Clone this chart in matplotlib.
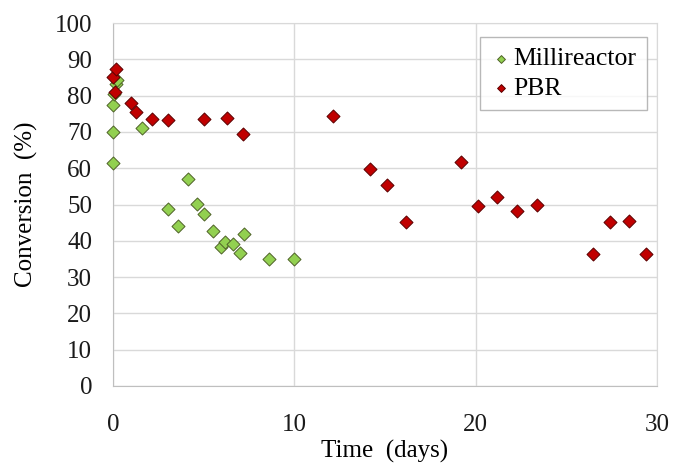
import matplotlib
matplotlib.use("Agg")
import matplotlib.pyplot as plt

# Millireactor conversion vs time
milli_days = [0.0, 0.0, 0.0, 0.05, 0.15, 0.2, 1.58, 3.02, 3.57, 4.12, 4.62, 5.03,
              5.52, 5.98, 6.2, 6.63, 6.98, 7.24, 8.62, 10.0]
milli_conv = [61.5, 70.0, 77.3, 80.5, 83.2, 84.3, 71.0, 48.8, 44.0, 57.0, 50.2, 47.3,
              42.6, 38.4, 39.8, 39.2, 36.7, 42.0, 35.0, 35.0]

# Packed bed reactor conversion vs time
pbr_days = [0.0, 0.17, 0.1, 0.97, 1.27, 2.15, 3.02, 5.03, 6.28, 7.16, 12.14, 14.2,
            15.1, 16.14, 19.17, 20.15, 21.17, 22.26, 23.4, 26.45, 27.4, 28.43, 29.42]
pbr_conv = [85.2, 87.2, 81.0, 77.9, 75.5, 73.5, 73.2, 73.5, 73.8, 69.4, 74.3, 59.9,
            55.4, 45.1, 61.6, 49.6, 52.0, 48.2, 49.9, 36.3, 45.1, 45.5, 36.3]

x_ticks = [0, 10, 20, 30]
y_ticks = list(range(0, 101, 10))

plt.rcParams["font.family"] = ["Liberation Serif", "DejaVu Serif"]

fig, ax = plt.subplots(figsize=(6.75, 4.66), dpi=100)
fig.subplots_adjust(left=0.1674, right=0.9733, top=0.9506, bottom=0.1717)

ax.scatter(milli_days, milli_conv, marker="D", s=44, color="#92D050",
           edgecolor="#4F6228", linewidth=0.7, label="Millireactor", zorder=3, clip_on=False)
ax.scatter(pbr_days, pbr_conv, marker="D", s=44, color="#C00000",
           edgecolor="#5A0000", linewidth=0.7, label="PBR", zorder=3, clip_on=False)

ax.set_xlim(0, 30)
ax.set_ylim(0, 100)
ax.set_xticks(x_ticks)
ax.set_yticks(y_ticks)
ax.tick_params(length=0, labelsize=18, colors="#1a1a1a")
ax.tick_params(axis="y", pad=15)
ax.tick_params(axis="x", pad=20)
ax.grid(True, color="#D9D9D9", linewidth=1)
ax.set_axisbelow(True)
for side in ax.spines.values():
    side.set_color("#D9D9D9")
ax.spines["bottom"].set_color("#BFBFBF")
ax.spines["left"].set_color("#BFBFBF")

ax.set_xlabel("Time  (days)", fontsize=18, labelpad=3)
ax.set_ylabel("Conversion  (%)", fontsize=18, labelpad=12)

leg = ax.legend(loc="upper right", bbox_to_anchor=(0.9816, 0.9614), borderaxespad=0,
                fontsize=18.5, frameon=True, fancybox=False, markerscale=0.6,
                handletextpad=0.1, handlelength=0.8, borderpad=0.4, labelspacing=0.25)
leg.get_frame().set_edgecolor("#A6A6A6")
leg.get_frame().set_linewidth(1)

fig.savefig("out.png", dpi=100)
plt.close(fig)
